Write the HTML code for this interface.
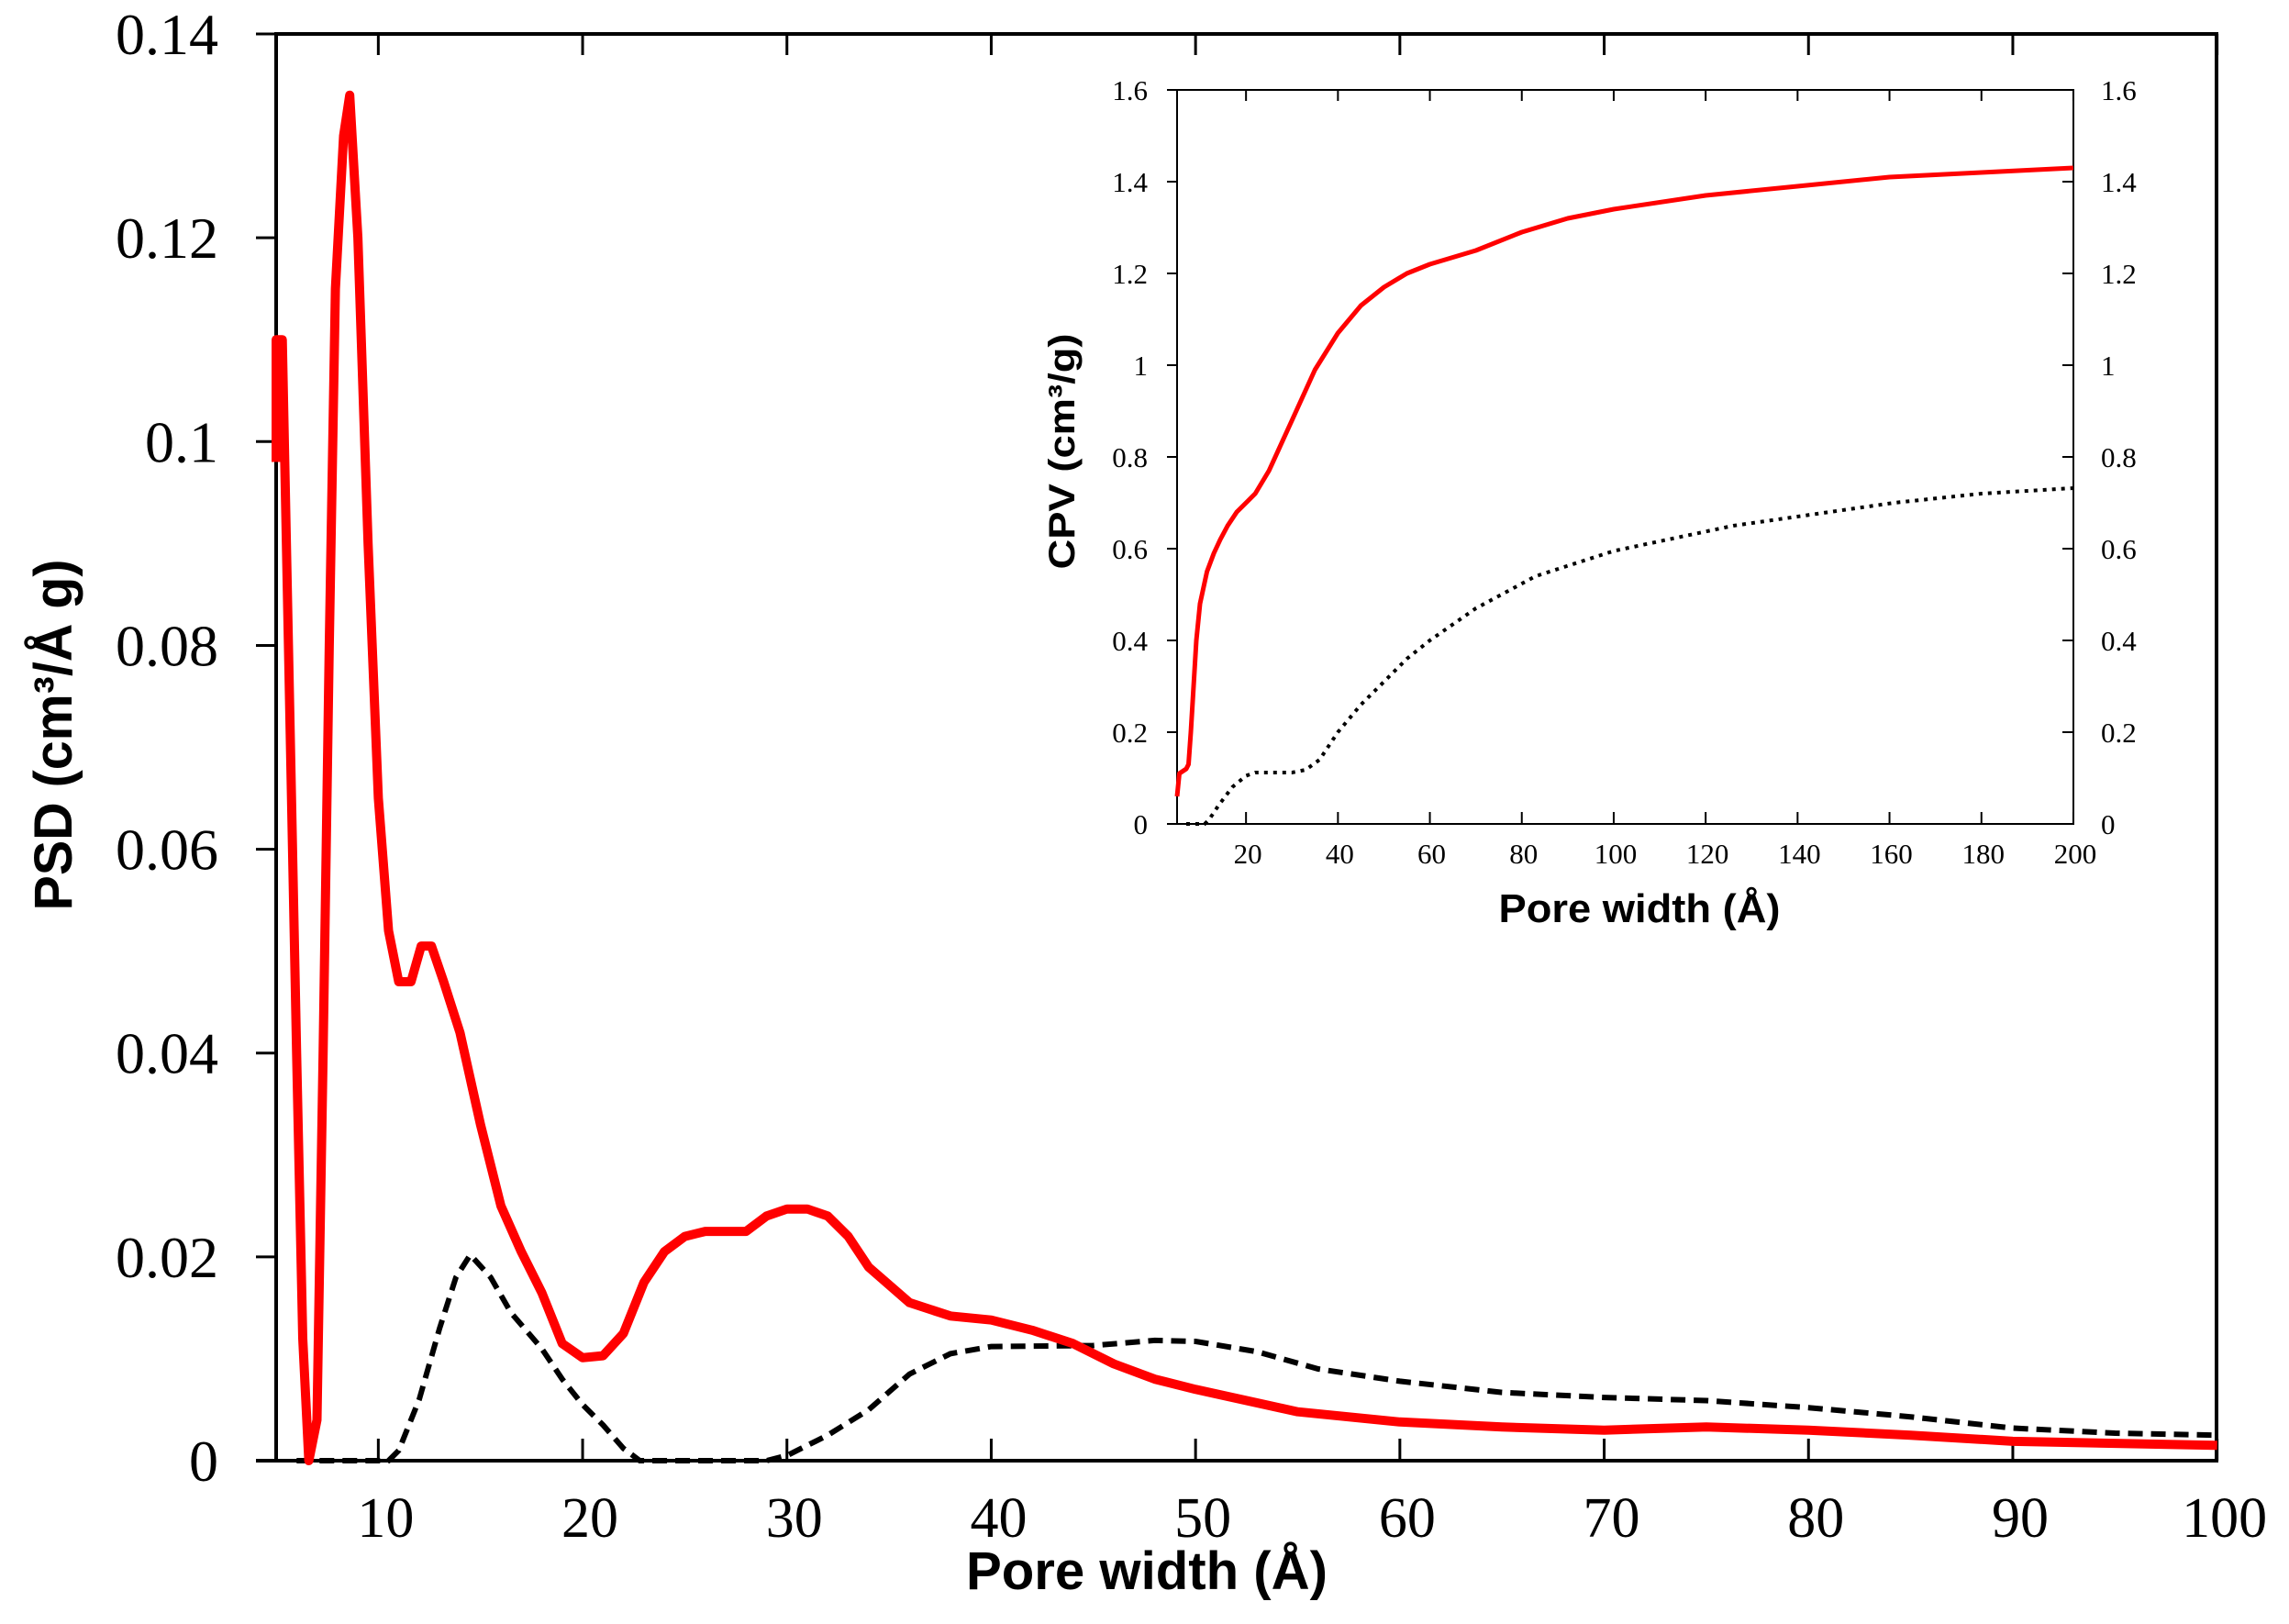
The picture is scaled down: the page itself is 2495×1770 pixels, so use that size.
<!DOCTYPE html>
<html><head><meta charset="utf-8"><style>html,body{margin:0;padding:0;background:#fff}svg{display:block}</style></head>
<body>
<svg id="s" width="2495" height="1770" viewBox="0 0 2495 1770" xmlns="http://www.w3.org/2000/svg">
<rect width="2495" height="1770" fill="#fff"/>
<g id="g"></g>
<text x="1250" y="1732" font-family="Liberation Sans, sans-serif" font-weight="bold" font-size="58" textLength="394" lengthAdjust="spacingAndGlyphs" text-anchor="middle">Pore width (Å)</text>
<text transform="translate(78,801) rotate(-90)" font-family="Liberation Sans, sans-serif" font-weight="bold" font-size="58" textLength="383" lengthAdjust="spacingAndGlyphs" text-anchor="middle">PSD (cm³/Å g)</text>
<text x="1787" y="1005" font-family="Liberation Sans, sans-serif" font-weight="bold" font-size="44" textLength="307" lengthAdjust="spacingAndGlyphs" text-anchor="middle">Pore width (Å)</text>
<text transform="translate(1171,492) rotate(-90)" font-family="Liberation Sans, sans-serif" font-weight="bold" font-size="40" textLength="257" lengthAdjust="spacingAndGlyphs" text-anchor="middle">CPV (cm³/g)</text>
</svg>
<script>
const g=document.getElementById('g');const NS='http://www.w3.org/2000/svg';
function el(t,a,txt){const e=document.createElementNS(NS,t);for(const k in a)e.setAttribute(k,a[k]);if(txt!==undefined)e.textContent=txt;g.appendChild(e);return e;}
const X=x=>301+(x-5)*22.27, Y=y=>1592-y*11107;
const IX=x=>1283+(x-5)*5.01, IY=y=>898-y*500;
el('rect',{x:301,y:37,width:2115,height:1555,fill:'none',stroke:'#000','stroke-width':4});
el('line',{x1:279,y1:1592,x2:301,y2:1592,stroke:'#000','stroke-width':4});
for(let v=10;v<=100;v+=10){const x=X(v);
 el('line',{x1:x,y1:1592,x2:x,y2:1568,stroke:'#000','stroke-width':3});
 el('line',{x1:x,y1:37,x2:x,y2:60,stroke:'#000','stroke-width':3});
 el('text',{x:x+8,y:1675,'font-family':'Liberation Serif, serif','font-size':62,'text-anchor':'middle'},String(v));}
const yl=['0','0.02','0.04','0.06','0.08','0.1','0.12','0.14'];
yl.forEach((t,i)=>{const y=Y(i*0.02);
 el('line',{x1:279,y1:y,x2:301,y2:y,stroke:'#000','stroke-width':3});
 el('text',{x:238,y:y+22,'font-family':'Liberation Serif, serif','font-size':64,'text-anchor':'end'},t);});
function path(pts,fx,fy){return pts.map((p,i)=>(i?'L':'M')+fx(p[0]).toFixed(1)+' '+fy(p[1]).toFixed(1)).join(' ');}
const red=[[5,0.098],[5,0.11],[5.3,0.11],[5.6,0.08],[6,0.04],[6.3,0.012],[6.6,0],[7,0.004],[7.3,0.04],[7.6,0.08],[7.9,0.115],[8.3,0.13],[8.6,0.134],[9,0.12],[9.5,0.09],[10,0.065],[10.5,0.052],[11,0.047],[11.6,0.047],[12.1,0.0505],[12.6,0.0505],[13.2,0.047],[14,0.042],[15,0.033],[16,0.025],[17,0.0205],[18,0.0165],[19,0.0115],[20,0.0101],[21,0.0103],[22,0.0125],[23,0.0175],[24,0.0205],[25,0.022],[26,0.0225],[28,0.0225],[29,0.024],[30,0.0247],[31,0.0247],[32,0.024],[33,0.022],[34,0.019],[36,0.0155],[38,0.0142],[40,0.0138],[42,0.0128],[44,0.0115],[46,0.0095],[48,0.008],[50,0.007],[55,0.0048],[60,0.0038],[65,0.0033],[70,0.003],[75,0.0033],[80,0.003],[85,0.0025],[90,0.0019],[95,0.0017],[100,0.0015]];
const blk=[[6,0],[10.5,0],[11,0.001],[12,0.006],[13,0.013],[13.8,0.018],[14.5,0.0202],[15.5,0.018],[16.5,0.0145],[18,0.011],[19,0.008],[20,0.0055],[21,0.0035],[22,0.0012],[22.8,0],[29,0],[30,0.0005],[32,0.0025],[34,0.005],[36,0.0085],[38,0.0105],[40,0.0112],[45,0.0113],[48,0.0118],[50,0.0117],[53,0.0107],[56,0.009],[60,0.0078],[65,0.0067],[70,0.0062],[75,0.0059],[80,0.0052],[85,0.0043],[90,0.0032],[95,0.0027],[100,0.0025]];
el('path',{d:path(blk,X,Y),fill:'none',stroke:'#000','stroke-width':6,'stroke-dasharray':'16 9'});
el('path',{d:path(red,X,Y),fill:'none',stroke:'#f00','stroke-width':10,'stroke-linejoin':'round'});
el('rect',{x:1283,y:98,width:977,height:800,fill:'none',stroke:'#000','stroke-width':2});
for(let v=20;v<=200;v+=20){const x=IX(v);
 el('line',{x1:x,y1:898,x2:x,y2:885,stroke:'#000','stroke-width':2});
 el('line',{x1:x,y1:98,x2:x,y2:110,stroke:'#000','stroke-width':2});
 el('text',{x:x+2,y:941,'font-family':'Liberation Serif, serif','font-size':31,'text-anchor':'middle'},String(v));}
['0','0.2','0.4','0.6','0.8','1','1.2','1.4','1.6'].forEach((t,i)=>{const y=IY(i*0.2);
 el('line',{x1:1272,y1:y,x2:1283,y2:y,stroke:'#000','stroke-width':2});
 el('line',{x1:2248,y1:y,x2:2260,y2:y,stroke:'#000','stroke-width':2});
 el('text',{x:1251,y:y+11,'font-family':'Liberation Serif, serif','font-size':31,'text-anchor':'end'},t);
 el('text',{x:2290,y:y+11,'font-family':'Liberation Serif, serif','font-size':31,'text-anchor':'start'},t);});
const ired=[[5,0.06],[5.5,0.11],[7,0.12],[7.5,0.13],[8,0.2],[8.6,0.3],[9.2,0.4],[10,0.48],[11.5,0.55],[13,0.59],[14.4,0.62],[16,0.65],[18,0.68],[20,0.70],[22,0.72],[25,0.77],[30,0.88],[35,0.99],[40,1.07],[45,1.13],[50,1.17],[55,1.20],[60,1.22],[70,1.25],[80,1.29],[90,1.32],[100,1.34],[120,1.37],[140,1.39],[160,1.41],[180,1.42],[200,1.43]];
const iblk=[[7,0],[11,0],[12,0.01],[14,0.04],[17,0.08],[20,0.105],[22,0.112],[30,0.112],[33,0.118],[36,0.14],[40,0.2],[45,0.26],[50,0.31],[55,0.36],[60,0.40],[70,0.47],[83,0.54],[100,0.595],[126,0.65],[161,0.70],[180,0.72],[200,0.732]];
el('path',{d:path(iblk,IX,IY),fill:'none',stroke:'#000','stroke-width':4,'stroke-dasharray':'4 6'});
el('path',{d:path(ired,IX,IY),fill:'none',stroke:'#f00','stroke-width':5,'stroke-linejoin':'round'});
</script>
</body></html>
